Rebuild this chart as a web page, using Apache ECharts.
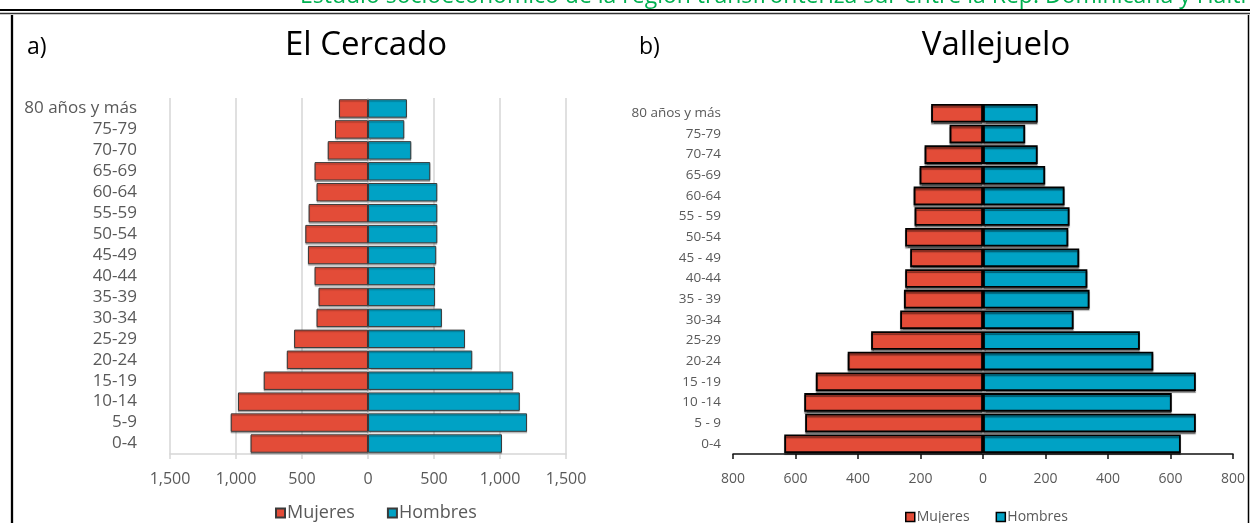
<!DOCTYPE html>
<html><head><meta charset="utf-8">
<script src="https://cdn.jsdelivr.net/npm/echarts@6/dist/echarts.min.js"></script>
<style>html,body{margin:0;padding:0;background:#fff}#c{width:1250px;height:523px}</style>
</head><body><div id="c"></div>
<script>
// El Cercado
const categoriesA = ['0-4','5-9','10-14','15-19','20-24','25-29','30-34','35-39','40-44','45-49','50-54','55-59','60-64','65-69','70-70','75-79','80 años y más'];
const mujeresA = [890,1040,985,790,615,560,390,375,405,455,475,450,390,405,305,250,220];
const hombresA = [1015,1205,1150,1100,790,735,560,508,508,517,525,525,525,472,328,275,295];
// Vallejuelo
const categoriesB = ['0-4','5 - 9','10 -14','15 -19','20-24','25-29','30-34','35 - 39','40-44','45 - 49','50-54','55 - 59','60-64','65-69','70-74','75-79','80 años y más'];
const mujeresB = [636,569,572,535,433,358,265,253,249,233,249,219,222,203,187,107,166];
const hombresB = [633,681,604,681,545,502,290,341,334,308,273,277,261,199,175,135,175];
const legendNames = ['Mujeres','Hombres'];
const headerText = 'Estudio socioeconómico de la región transfronteriza sur entre la Rep. Dominicana y Haití';

const RED = '#E34C38', BLUE = '#00A2C5';
const FONT = 'Open Sans';
const fmt = v => Math.abs(v).toLocaleString('en-US');
const neg = arr => arr.map(v => -v);

const chart = echarts.init(document.getElementById('c'), null, {renderer:'canvas'});
chart.setOption({
  animation:false,
  backgroundColor:'#fff',
  textStyle:{fontFamily:FONT},
  grid:[
    {left:170, width:396, top:98, height:356},
    {left:733, width:500, top:103, height:351}
  ],
  xAxis:[
    {gridIndex:0, type:'value', min:-1500, max:1500, interval:500,
     axisLine:{show:true, lineStyle:{color:'#d6d6d6', width:1.5}},
     axisTick:{show:true, length:5, lineStyle:{color:'#d6d6d6', width:1.5}},
     splitLine:{show:true, lineStyle:{color:'#d6d6d6', width:1.5}},
     axisLabel:{formatter:fmt, color:'#595959', fontSize:16, margin:17, fontFamily:FONT}},
    {gridIndex:1, type:'value', min:-800, max:800, interval:200,
     axisLine:{show:true, lineStyle:{color:'#111', width:1.5}},
     axisTick:{show:true, length:5, lineStyle:{color:'#111', width:1.5}},
     splitLine:{show:false},
     axisLabel:{formatter:fmt, color:'#595959', fontSize:14, margin:18, fontFamily:FONT}}
  ],
  yAxis:[
    {gridIndex:0, type:'category', data:categoriesA,
     axisLine:{show:false}, axisTick:{show:false},
     axisLabel:{interval:0, color:'#595959', fontSize:17, margin:33, fontFamily:FONT}},
    {gridIndex:1, type:'category', data:categoriesB,
     axisLine:{show:false}, axisTick:{show:false},
     axisLabel:{interval:0, color:'#595959', fontSize:13.5, margin:12, fontFamily:FONT}}
  ],
  legend:[
    {data:legendNames, itemWidth:9, itemHeight:9, itemGap:32, icon:'rect',
     left:270, top:499, textStyle:{color:'#595959', fontSize:18, fontFamily:FONT, padding:[0,0,0,-3]}},
    {data:legendNames.map(n=>({name:n, itemStyle:{borderColor:'#000', borderWidth:1.5}})),
     itemWidth:9, itemHeight:9, itemGap:26, icon:'rect',
     left:900, top:505, textStyle:{color:'#595959', fontSize:14, fontFamily:FONT, padding:[0,0,0,-3]}}
  ],
  series:[
    {name:'Mujeres', type:'bar', xAxisIndex:0, yAxisIndex:0, data:neg(mujeresA),
     barGap:'-100%', barCategoryGap:'12%',
     itemStyle:{color:RED, borderColor:'#3a3a3a', borderWidth:1, shadowColor:'rgba(0,0,0,0.25)', shadowOffsetY:1.5, shadowBlur:1}},
    {name:'Hombres', type:'bar', xAxisIndex:0, yAxisIndex:0, data:hombresA,
     barGap:'-100%', barCategoryGap:'12%',
     itemStyle:{color:BLUE, borderColor:'#3a3a3a', borderWidth:1, shadowColor:'rgba(0,0,0,0.25)', shadowOffsetY:1.5, shadowBlur:1}},
    {name:'Mujeres', type:'bar', xAxisIndex:1, yAxisIndex:1, data:neg(mujeresB),
     barGap:'-100%', barCategoryGap:'10%',
     itemStyle:{color:RED, borderColor:'#000', borderWidth:1.8, shadowColor:'rgba(0,0,0,0.45)', shadowOffsetY:2, shadowBlur:1}},
    {name:'Hombres', type:'bar', xAxisIndex:1, yAxisIndex:1, data:hombresB,
     barGap:'-100%', barCategoryGap:'10%',
     itemStyle:{color:BLUE, borderColor:'#000', borderWidth:1.8, shadowColor:'rgba(0,0,0,0.45)', shadowOffsetY:2, shadowBlur:1}}
  ],
  graphic:[
    {type:'text', z:10, style:{text:headerText, x:300, y:8, align:'left', verticalAlign:'bottom', fontSize:23, fontFamily:FONT, fill:'#00B050'}},
    {type:'line', shape:{x1:0, y1:10, x2:1250, y2:10}, style:{stroke:'#000', lineWidth:2}},
    {type:'line', shape:{x1:0, y1:13.5, x2:1250, y2:13.5}, style:{stroke:'#333', lineWidth:1.3}},
    {type:'line', shape:{x1:12, y1:15, x2:12, y2:523}, style:{stroke:'#000', lineWidth:2.3}},
    {type:'line', shape:{x1:1248.5, y1:15, x2:1248.5, y2:523}, style:{stroke:'#000', lineWidth:1.5}},
    {type:'text', style:{text:'a)', x:27, y:47, verticalAlign:'middle', fontSize:23, fontFamily:FONT, fill:'#000'}},
    {type:'text', style:{text:'El Cercado', x:366, y:46, align:'center', verticalAlign:'middle', fontSize:33, fontFamily:FONT, fill:'#000'}},
    {type:'text', style:{text:'b)', x:639, y:47, verticalAlign:'middle', fontSize:23, fontFamily:FONT, fill:'#000'}},
    {type:'text', style:{text:'Vallejuelo', x:996, y:46, align:'center', verticalAlign:'middle', fontSize:33, fontFamily:FONT, fill:'#000'}}
  ]
});
</script></body></html>
